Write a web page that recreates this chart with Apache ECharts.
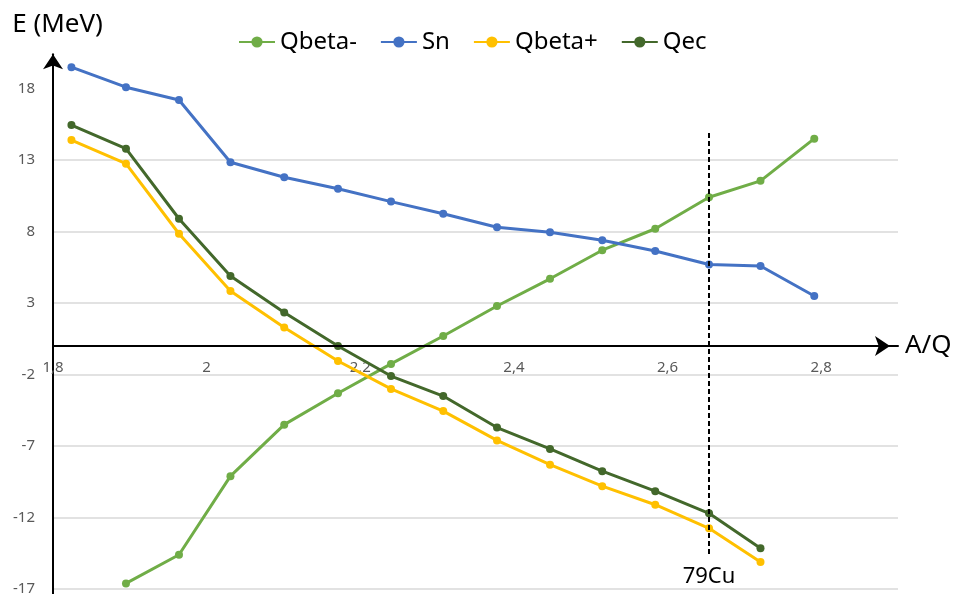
<!DOCTYPE html>
<html>
<head>
<meta charset="utf-8">
<script src="https://cdn.jsdelivr.net/npm/echarts@6/dist/echarts.min.js"></script>
<style>
html,body{margin:0;padding:0;background:#fff;}
#chart{width:956px;height:594px;}
</style>
</head>
<body>
<div id="chart"></div>
<script>
// A/Q values of the points
const aq = [1.824, 1.895, 1.964, 2.031, 2.101, 2.171, 2.240, 2.308, 2.378, 2.447, 2.515, 2.584, 2.654, 2.721, 2.791];
// Energies (MeV)
const qbetaMinus = [null, -16.6, -14.6, -9.1, -5.5, -3.3, -1.25, 0.7, 2.8, 4.7, 6.7, 8.2, 10.4, 11.55, 14.5];
const sn = [19.5, 18.1, 17.2, 12.85, 11.8, 11.0, 10.1, 9.25, 8.3, 7.95, 7.4, 6.65, 5.7, 5.6, 3.5];
const qbetaPlus = [14.4, 12.75, 7.85, 3.85, 1.3, -1.05, -3.0, -4.55, -6.6, -8.3, -9.8, -11.1, -12.75, -15.1, null];
const qec = [15.45, 13.8, 8.9, 4.9, 2.35, 0.0, -2.1, -3.5, -5.7, -7.2, -8.75, -10.15, -11.7, -14.15, null];
// Tick labels
const yTicks = [-17, -12, -7, -2, 3, 8, 13, 18];
const xTicks = [1.8, 2, 2.2, 2.4, 2.6, 2.8];
// 79Cu marker
const cuName = '79Cu';
const cuAQ = 2.654;
const cuRange = [-14.55, 15.1];

const names = ['Qbeta-', 'Sn', 'Qbeta+', 'Qec'];
const colors = ['#70AD47', '#4472C4', '#FFC000', '#43682B'];
const values = [qbetaMinus, sn, qbetaPlus, qec];
const X_MIN = 1.8, X_MAX = 2.9, Y_MIN = -17.3, Y_MAX = 20.4;

function pairs(arr) {
  const out = [];
  arr.forEach((v, i) => { if (v !== null) out.push([aq[i], v]); });
  return out;
}

const FONT = 'Noto Sans';
const series = names.map((n, k) => ({
  name: n,
  type: 'line',
  data: pairs(values[k]),
  symbol: 'circle',
  symbolSize: 8,
  showSymbol: true,
  lineStyle: { width: 3, color: colors[k] },
  itemStyle: { color: colors[k] },
  z: 3
}));

series.push({
  name: 'cu',
  type: 'line',
  data: [],
  markLine: {
    silent: true,
    symbol: ['none', 'none'],
    animation: false,
    lineStyle: { color: '#000', type: [5, 3], width: 2 },
    label: {
      show: true,
      position: 'start',
      formatter: cuName,
      fontFamily: FONT,
      fontSize: 22,
      color: '#000',
      distance: 12
    },
    data: [[{ coord: [cuAQ, cuRange[0]] }, { coord: [cuAQ, cuRange[1]] }]]
  }
});

const chart = echarts.init(document.getElementById('chart'), null, { renderer: 'canvas' });
chart.setOption({
  animation: false,
  backgroundColor: '#fff',
  textStyle: { fontFamily: FONT },
  legend: {
    data: names,
    left: 238,
    top: 30,
    padding: 0,
    itemWidth: 36,
    itemHeight: 14,
    itemGap: 23,
    textStyle: { fontFamily: FONT, fontSize: 24, color: '#000' }
  },
  grid: { left: 53, right: 58, top: 54.3, bottom: 0.6, containLabel: false, outerBoundsMode: 'none' },
  xAxis: [{
    type: 'value',
    min: X_MIN,
    max: X_MAX,
    name: 'A/Q',
    nameLocation: 'end',
    nameGap: 7,
    nameTextStyle: { fontFamily: FONT, fontSize: 26, color: '#000' },
    axisLine: {
      show: true, onZero: true,
      lineStyle: { color: '#000', width: 2 },
      symbol: ['none', 'arrow'],
      symbolSize: [15, 15],
      symbolOffset: [0, -8]
    },
    axisTick: { show: false },
    splitLine: { show: false },
    axisLabel: { show: false },
    z: 4
  }, {
    type: 'value',
    min: X_MIN,
    max: X_MAX,
    position: 'bottom',
    offset: 0,
    axisLine: { show: false, onZero: false },
    axisTick: { show: false, customValues: xTicks },
    splitLine: { show: false },
    axisLabel: {
      customValues: xTicks,
      margin: 14,
      fontFamily: FONT,
      fontSize: 15,
      color: '#595959',
      formatter: v => String(v).replace('.', ',')
    }
  }],
  yAxis: {
    type: 'value',
    min: Y_MIN,
    max: Y_MAX,
    name: 'E (MeV)',
    nameLocation: 'end',
    nameGap: 17,
    nameTextStyle: { fontFamily: FONT, fontSize: 26, color: '#000', padding: [0, 0, 0, 9] },
    axisLine: {
      show: true, onZero: false,
      lineStyle: { color: '#000', width: 2 },
      symbol: ['none', 'arrow'],
      symbolSize: [15, 15]
    },
    axisTick: { show: false, customValues: yTicks },
    splitLine: {
      show: true,
      customValues: yTicks,
      showMinLine: true,
      showMaxLine: false,
      lineStyle: { color: '#D9D9D9', width: 1.5 }
    },
    axisLabel: {
      customValues: yTicks,
      margin: 18,
      fontFamily: FONT,
      fontSize: 15,
      color: '#595959'
    }
  },
  series: series
});

// Move the label-only x axis up to the zero line, using the library's y scale
const zeroY = chart.convertToPixel({ yAxisIndex: 0 }, 0);
const bottomY = chart.convertToPixel({ yAxisIndex: 0 }, Y_MIN);
chart.setOption({ xAxis: [{}, { offset: zeroY - bottomY }] });
</script>
</body>
</html>
